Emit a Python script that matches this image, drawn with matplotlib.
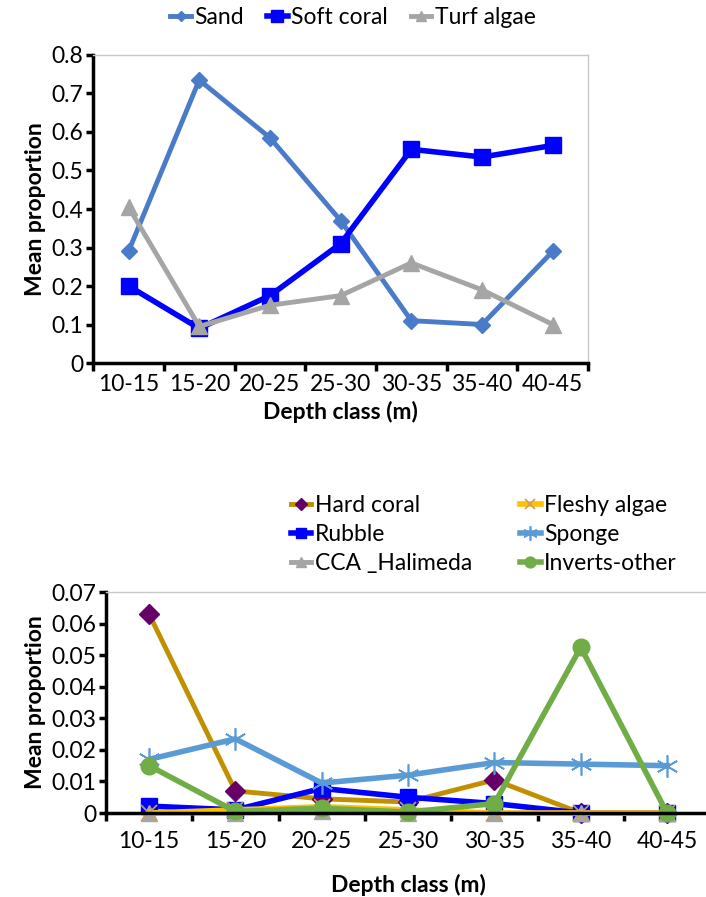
import numpy as np
import matplotlib
matplotlib.use("Agg")
import matplotlib.pyplot as plt

plt.rcParams['font.family'] = ['Lato', 'DejaVu Sans']

depth = ["10-15", "15-20", "20-25", "25-30", "30-35", "35-40", "40-45"]

# top panel
sand = [0.29, 0.735, 0.585, 0.37, 0.11, 0.10, 0.29]
soft_coral = [0.20, 0.09, 0.175, 0.31, 0.555, 0.535, 0.565]
turf_algae = [0.405, 0.095, 0.15, 0.175, 0.26, 0.19, 0.10]

# bottom panel
hard_coral = [0.063, 0.007, 0.0045, 0.0035, 0.0105, 0.0, 0.0]
rubble = [0.0022, 0.001, 0.0078, 0.005, 0.003, 0.0, 0.0]
cca_halimeda = [0.0, 0.0, 0.0005, 0.0, 0.0, 0.0, 0.0]
fleshy_algae = [0.0, 0.001, 0.002, 0.001, 0.0, 0.0, 0.0]
sponge = [0.017, 0.0235, 0.0095, 0.012, 0.016, 0.0155, 0.015]
inverts_other = [0.015, 0.0005, 0.0015, 0.0003, 0.003, 0.0525, 0.0]

x = np.arange(len(depth))
fs = 16.5

fig = plt.figure(figsize=(7.06, 8.97), dpi=100)


def style_axes(ax, ymax, step, fmt, right_visible=True, xpad=8):
    ax.set_xlim(-0.5, len(depth) - 0.5)
    ax.set_ylim(0, ymax)
    ax.set_yticks(np.arange(0, ymax + step / 2, step))
    ax.set_yticklabels([fmt(v) for v in np.arange(0, ymax + step / 2, step)], fontsize=fs)
    ax.set_xticks(np.arange(-0.5, len(depth)), minor=False)
    ax.set_xticklabels([])
    ax.set_xticks(x, minor=True)
    ax.set_xticklabels(depth, minor=True, fontsize=fs)
    ax.tick_params(axis='x', which='minor', length=0, pad=xpad)
    ax.tick_params(axis='x', which='major', length=6, width=2.5, direction='out')
    ax.tick_params(axis='y', length=5, width=2.5, direction='out', pad=2)
    ax.spines['left'].set_linewidth(2.5)
    ax.spines['bottom'].set_linewidth(2.5)
    ax.spines['top'].set_color('#c8c8c8')
    ax.spines['top'].set_linewidth(1)
    ax.spines['right'].set_color('#c8c8c8')
    ax.spines['right'].set_linewidth(1)
    ax.spines['right'].set_visible(right_visible)
    ax.set_xlabel("Depth class (m)", fontsize=fs, fontweight='bold')
    ax.set_ylabel("Mean proportion", fontsize=fs, fontweight='bold')


ax1 = fig.add_axes([0.132, 0.5953, 0.701, 0.3434])
ax1.plot(x, sand, color='#4a7bc8', lw=3.5, marker='D', ms=8, label='Sand', clip_on=False)
ax1.plot(x, soft_coral, color='#0000ff', lw=4, marker='s', ms=12, label='Soft coral', clip_on=False)
ax1.plot(x, turf_algae, color='#a5a5a5', lw=3.5, marker='^', ms=11, label='Turf algae', clip_on=False)
style_axes(ax1, 0.8, 0.1, lambda v: "0" if v == 0 else f"{v:.1f}")
ax1.xaxis.labelpad = 4
ax1.yaxis.labelpad = 4

fig.legend(*ax1.get_legend_handles_labels(), loc='center', bbox_to_anchor=(0.5, 1 - 18 / 897),
           ncol=3, frameon=False, fontsize=fs, handlelength=0.9, handletextpad=0.15,
           columnspacing=1.0, markerscale=0.7)

ax2 = fig.add_axes([0.150, 0.0936, 0.856, 0.2464])
ax2.plot(x, hard_coral, color='#c09000', lw=3.5, marker='D', ms=10, mfc='#660066', mec='#660066',
         label='Hard coral', clip_on=False)
ax2.plot(x, rubble, color='#0000ff', lw=4, marker='s', ms=12, label='Rubble', clip_on=False)
ax2.plot(x, cca_halimeda, color='#a5a5a5', lw=3.5, marker='^', ms=11, label='CCA _Halimeda', clip_on=False)
ax2.plot(x, fleshy_algae, color='#ffc000', lw=4, marker='x', ms=11, mec='#c8a060', mew=1.2,
         label='Fleshy algae', clip_on=False)
ax2.plot(x, sponge, color='#5b9bd5', lw=4, marker=(6, 2, 0), ms=16, mew=1.2,
         label='Sponge', clip_on=False)
ax2.plot(x, inverts_other, color='#70ad47', lw=4, marker='o', ms=12, label='Inverts-other', clip_on=False)
style_axes(ax2, 0.07, 0.01, lambda v: "0" if v == 0 else f"{v:.2f}", right_visible=False, xpad=13)
ax2.xaxis.labelpad = 16
ax2.yaxis.labelpad = 4

fig.legend(*ax2.get_legend_handles_labels(), loc='upper left', bbox_to_anchor=(270 / 706, 1 - 474 / 897),
           ncol=2, frameon=False, fontsize=fs, handlelength=0.9, handletextpad=0.15,
           columnspacing=2.1, labelspacing=0.35, markerscale=0.65)

fig.savefig("out.png", dpi=100)
